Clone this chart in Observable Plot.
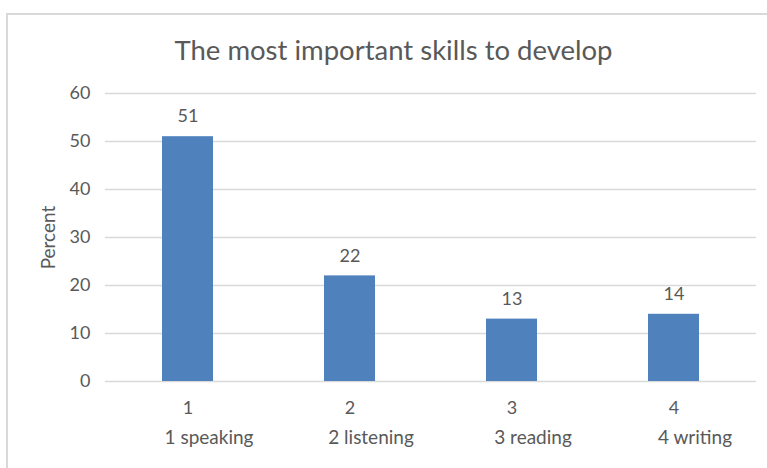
<!DOCTYPE html>
<html>
<head>
<meta charset="utf-8">
<script src="https://cdn.jsdelivr.net/npm/d3@7"></script>
<script src="https://cdn.jsdelivr.net/npm/@observablehq/plot@0.6"></script>
<style>
  html, body { margin: 0; padding: 0; background: #fff; }
  #wrap { position: relative; width: 767px; height: 468px; overflow: hidden; font-family: Lato, "Open Sans", sans-serif; }
  #border { position: absolute; left: 6px; top: 13px; width: 800px; height: 500px; border-left: 2px solid #d9d9d9; border-top: 2px solid #d9d9d9; box-sizing: border-box; }
  #title { position: absolute; left: 0; width: 787px; top: 33px; text-align: center; font-size: 27.5px; color: #595959; line-height: 34px; }
  #chart { position: absolute; left: 0; top: 60px; }
</style>
</head>
<body>
<div id="wrap">
  <div id="border"></div>
  <div id="title">The most important skills to develop</div>
  <div id="chart"></div>
</div>
<script>
const categories = ["1", "2", "3", "4"];
const skillLabels = ["1 speaking", "2 listening", "3 reading", "4 writing"];
const percents = [51, 22, 13, 14];
const yTicks = [0, 10, 20, 30, 40, 50, 60];
const yLabel = "Percent";

const data = categories.map((c, i) => ({cat: c, skill: skillLabels[i], value: percents[i]}));

const txt = "#595959";
const chart = Plot.plot({
  width: 767,
  height: 408,
  marginTop: 33,
  marginBottom: 87,
  marginLeft: 105,
  marginRight: 11,
  style: {fontFamily: "Lato, 'Open Sans', sans-serif", fontSize: "18px", color: txt, background: "transparent"},
  x: {domain: categories, paddingInner: 0.686, paddingOuter: 0.343, label: null},
  y: {domain: [0, 60], label: null},
  marks: [
    Plot.gridY(yTicks, {stroke: "#d9d9d9", strokeOpacity: 1, strokeWidth: 1.5}),
    Plot.barY(data, {x: "cat", y: "value", fill: "#4f81bd"}),
    Plot.axisY(yTicks, {tickSize: 0, tickPadding: 15, fill: txt, fontSize: 18, label: null}),
    Plot.axisX({tickSize: 0, tickPadding: 20, fill: txt, fontSize: 18, label: null}),
    Plot.text(data, {x: "cat", y: "value", text: d => String(d.value), dy: -20, fill: txt, fontSize: 18}),
    Plot.text(data, {x: "cat", text: "skill", frameAnchor: "bottom", dy: 62, dx: 21, fill: txt, fontSize: 19}),
    Plot.text([yLabel], {text: d => d, frameAnchor: "left", textAnchor: "middle", rotate: -90, dx: -57, fill: txt, fontSize: 19})
  ]
});
document.getElementById("chart").appendChild(chart);
</script>
</body>
</html>
